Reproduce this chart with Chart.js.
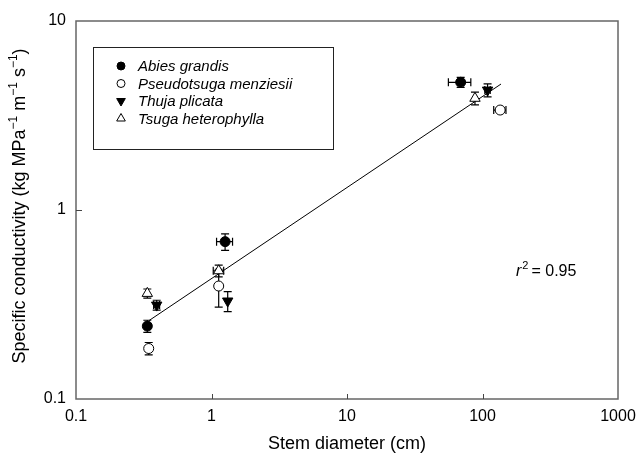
<!DOCTYPE html>
<html><head><meta charset="utf-8">
<script src="https://cdn.jsdelivr.net/npm/chart.js@4"></script>
<style>html,body{margin:0;padding:0;background:#fff}canvas{display:block}</style>
</head><body>
<canvas id="c" width="639" height="454"></canvas>
<script>
// ---- data ----
const species = ['Abies grandis', 'Pseudotsuga menziesii', 'Thuja plicata', 'Tsuga heterophylla'];

const abiesX = [0.336, 1.26, 69];
const abiesY = [0.243, 0.68, 4.74];
const abiesXErr = [0, 0.17, 13];
const abiesYErr = [0.018, 0.068, 0.29];

const pseudoX = [0.344, 1.13, 135];
const pseudoY = [0.185, 0.396, 3.38];
const pseudoXErr = [0, 0, 14];
const pseudoYErr = [0.014, 0.09, 0];

const thujaX = [0.394, 1.317, 109];
const thujaY = [0.314, 0.33, 4.31];
const thujaXErr = [0.02, 0, 5];
const thujaYErr = [0.019, 0.04, 0.34];

const tsugaX = [0.336, 1.13, 88];
const tsugaY = [0.362, 0.477, 3.90];
const tsugaXErr = [0, 0.1, 0];
const tsugaYErr = [0.02, 0.034, 0.3];

const fitX = [0.346, 137];
const fitY = [0.26, 4.64];

const xTicks = [0.1, 1, 10, 100, 1000];
const yTicks = [0.1, 1, 10];
const rSquared = '0.95';

const xTitle = 'Stem diameter (cm)';

// ---- build datasets ----
function pts(xs, ys, xe, ye) {
  return xs.map((x, i) => ({x: x, y: ys[i], xErr: xe[i], yErr: ye[i]}));
}
const FONT = "'Liberation Sans', Arial, sans-serif";

const datasets = [
  {label: species[0], data: pts(abiesX, abiesY, abiesXErr, abiesYErr), pointStyle: 'circle', pointRadius: 5,
   backgroundColor: '#000', borderColor: '#000', borderWidth: 1, showLine: false},
  {label: species[1], data: pts(pseudoX, pseudoY, pseudoXErr, pseudoYErr), pointStyle: 'circle', pointRadius: 5,
   backgroundColor: '#fff', borderColor: '#000', borderWidth: 1, showLine: false},
  {label: species[2], data: pts(thujaX, thujaY, thujaXErr, thujaYErr), pointStyle: 'triangle', rotation: 180, pointRadius: 6,
   backgroundColor: '#000', borderColor: '#000', borderWidth: 1, showLine: false},
  {label: species[3], data: pts(tsugaX, tsugaY, tsugaXErr, tsugaYErr), pointStyle: 'triangle', pointRadius: 6,
   backgroundColor: '#fff', borderColor: '#000', borderWidth: 1, showLine: false},
  {label: 'fit', data: fitX.map((x, i) => ({x: x, y: fitY[i]})), showLine: true, pointRadius: 0,
   borderColor: '#000', borderWidth: 1, fill: false, isFit: true}
];

// ---- plugin: error bars, frame, inward ticks, legend, titles ----
const decor = {
  id: 'decor',
  beforeDatasetsDraw(chart) {
    const ctx = chart.ctx, xs = chart.scales.x, ys = chart.scales.y;
    ctx.save();
    ctx.strokeStyle = '#000';
    ctx.lineWidth = 1.2;
    const cap = 4;
    chart.data.datasets.forEach(ds => {
      if (ds.isFit) return;
      ds.data.forEach(p => {
        const px = xs.getPixelForValue(p.x), py = ys.getPixelForValue(p.y);
        if (p.yErr > 0) {
          const y1 = ys.getPixelForValue(p.y + p.yErr), y2 = ys.getPixelForValue(p.y - p.yErr);
          ctx.beginPath();
          ctx.moveTo(px, y1); ctx.lineTo(px, y2);
          ctx.moveTo(px - cap, y1); ctx.lineTo(px + cap, y1);
          ctx.moveTo(px - cap, y2); ctx.lineTo(px + cap, y2);
          ctx.stroke();
        }
        if (p.xErr > 0) {
          const x1 = xs.getPixelForValue(p.x - p.xErr), x2 = xs.getPixelForValue(p.x + p.xErr);
          ctx.beginPath();
          ctx.moveTo(x1, py); ctx.lineTo(x2, py);
          ctx.moveTo(x1, py - cap); ctx.lineTo(x1, py + cap);
          ctx.moveTo(x2, py - cap); ctx.lineTo(x2, py + cap);
          ctx.stroke();
        }
      });
    });
    ctx.restore();
  },
  afterDraw(chart) {
    const ctx = chart.ctx, a = chart.chartArea, xs = chart.scales.x, ys = chart.scales.y;
    ctx.save();
    // frame
    ctx.strokeStyle = '#666';
    ctx.lineWidth = 1.5;
    ctx.strokeRect(a.left, a.top, a.right - a.left, a.bottom - a.top);
    // inward ticks
    ctx.lineWidth = 1;
    ctx.strokeStyle = '#444';
    ctx.beginPath();
    xTicks.slice(1, -1).forEach(v => {
      const px = Math.round(xs.getPixelForValue(v)) + 0.5;
      ctx.moveTo(px, a.bottom); ctx.lineTo(px, a.bottom - 5);
    });
    yTicks.slice(1, -1).forEach(v => {
      const py = Math.round(ys.getPixelForValue(v)) + 0.5;
      ctx.moveTo(a.left, py); ctx.lineTo(a.left + 6, py);
    });
    ctx.stroke();

    // legend box
    ctx.strokeStyle = '#222';
    ctx.lineWidth = 1;
    ctx.strokeRect(93.5, 47.5, 240, 102);
    const rows = [66, 83.5, 101, 118.5];
    ctx.font = 'italic 15px ' + FONT;
    ctx.textBaseline = 'middle';
    ctx.textAlign = 'left';
    chart.data.datasets.slice(0, 4).forEach((ds, i) => {
      const cx = 121, cy = rows[i];
      ctx.fillStyle = ds.backgroundColor;
      ctx.strokeStyle = '#000';
      ctx.lineWidth = 1;
      const r = ds.pointStyle === 'circle' ? 4 : 5;
      Chart.helpers.drawPoint(ctx, {pointStyle: ds.pointStyle, rotation: ds.rotation || 0, radius: r, borderWidth: 1}, cx, cy);
      ctx.fillStyle = '#000';
      ctx.fillText(ds.label, 138, cy + 1);
    });

    // r^2 annotation
    ctx.fillStyle = '#000';
    ctx.textBaseline = 'alphabetic';
    ctx.font = 'italic 16px ' + FONT;
    let tx = 516;
    const ty = 276;
    ctx.fillText('r', tx, ty); tx += ctx.measureText('r').width + 1;
    ctx.font = '11px ' + FONT;
    ctx.fillText('2', tx, ty - 7); tx += ctx.measureText('2').width + 3;
    ctx.font = '16px ' + FONT;
    ctx.fillText('= ' + rSquared, tx, ty);

    // x title
    ctx.font = '18px ' + FONT;
    ctx.textAlign = 'center';
    ctx.fillText(xTitle, (a.left + a.right) / 2, 449);

    // y title with superscripts
    const parts = [
      ['Specific conductivity (kg MPa', false], ['\u22121', true], [' m', false],
      ['\u22121', true], [' s', false], ['\u22121', true], [')', false]
    ];
    let total = 0;
    parts.forEach(p => { ctx.font = (p[1] ? '12px ' : '18px ') + FONT; total += ctx.measureText(p[0]).width; });
    ctx.translate(25, 206);
    ctx.rotate(-Math.PI / 2);
    ctx.textAlign = 'left';
    let ox = -total / 2;
    parts.forEach(p => {
      ctx.font = (p[1] ? '12px ' : '18px ') + FONT;
      ctx.fillText(p[0], ox, p[1] ? -8 : 0);
      ox += ctx.measureText(p[0]).width;
    });
    ctx.restore();
  }
};

new Chart(document.getElementById('c'), {
  type: 'scatter',
  data: {datasets: datasets},
  options: {
    responsive: false,
    animation: false,
    layout: {padding: {top: 21, right: 21, left: 0, bottom: 0}},
    plugins: {legend: {display: false}, tooltip: {enabled: false}},
    scales: {
      x: {
        type: 'logarithmic', min: 0.1, max: 1000,
        afterBuildTicks: s => { s.ticks = xTicks.map(v => ({value: v})); },
        afterFit: s => { s.height = 55; s.paddingLeft = 0; s.paddingRight = 0; },
        grid: {display: false, drawTicks: false},
        border: {display: false},
        ticks: {padding: 8, color: '#000', font: {family: FONT, size: 16}, maxRotation: 0, autoSkip: false,
                callback: v => String(v)}
      },
      y: {
        type: 'logarithmic', min: 0.1, max: 10,
        afterBuildTicks: s => { s.ticks = yTicks.map(v => ({value: v})); },
        afterFit: s => { s.width = 76; s.paddingTop = 0; s.paddingBottom = 0; },
        grid: {display: false, drawTicks: false},
        border: {display: false},
        ticks: {padding: 10, color: '#000', font: {family: FONT, size: 16}, autoSkip: false,
                callback: v => String(v)}
      }
    }
  },
  plugins: [decor]
});
</script>
</body></html>
